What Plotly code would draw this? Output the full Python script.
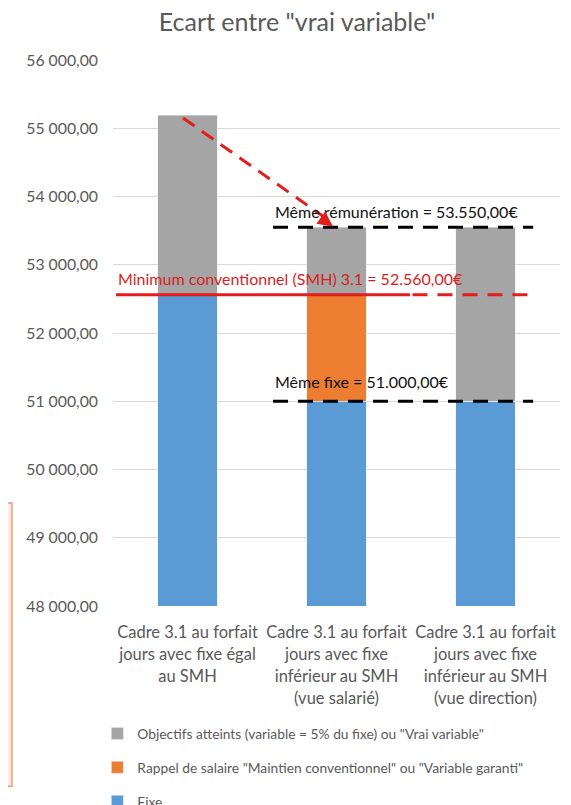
import plotly.graph_objects as go

# ---- data ----
categories = [
    "Cadre 3.1 au forfait<br>jours avec fixe égal<br>au SMH",
    "Cadre 3.1 au forfait<br>jours avec fixe<br>inférieur au SMH<br>(vue salarié)",
    "Cadre 3.1 au forfait<br>jours avec fixe<br>inférieur au SMH<br>(vue direction)",
]
fixe = [52560, 51000, 51000]
rappel = [0, 1560, 0]
objectifs = [2628, 990, 2550]

smh = 52560
meme_remuneration = 53550
meme_fixe = 51000
arrow_start_y = 55150

y_tick_values = [48000, 49000, 50000, 51000, 52000, 53000, 54000, 55000, 56000]
y_tick_labels = ["48 000,00", "49 000,00", "50 000,00", "51 000,00", "52 000,00",
                 "53 000,00", "54 000,00", "55 000,00", "56 000,00"]

name_fixe = "Fixe"
name_rappel = 'Rappel de salaire "Maintien conventionnel" ou "Variable garanti"'
name_obj = 'Objectifs atteints (variable = 5% du fixe) ou "Vrai variable"'

label_smh = "Minimum conventionnel (SMH) 3.1 = 52.560,00€"
label_rem = "Même rémunération = 53.550,00€"
label_fixe = "Même fixe = 51.000,00€"

# ---- style ----
FONT = "Lato, sans-serif"
TXT = "#595959"
BLUE = "#5b9bd5"
ORANGE = "#ed7d31"
GRAY = "#a5a5a5"
RED = "#e31c1c"

# page body has an 8px margin: figure is sized to the visible area
W, H = 563, 797

xpos = list(range(len(categories)))


def tick_label(s):
    return "<br>".join('<span style="font-size:16.5px">%s</span>' % p for p in s.split("<br>"))


fig = go.Figure()
fig.add_trace(go.Bar(x=xpos, y=fixe, name=name_fixe, marker_color=BLUE,
                     legendgroup="g3", legendrank=3))
fig.add_trace(go.Bar(x=xpos, y=rappel, name=name_rappel, marker_color=ORANGE,
                     legendgroup="g2", legendrank=2))
fig.add_trace(go.Bar(x=xpos, y=objectifs, name=name_obj, marker_color=GRAY,
                     legendgroup="g1", legendrank=1))

# dashed red arrow from bar 1 top to the "même rémunération" level
fig.add_trace(go.Scatter(
    x=[xpos[0] - 0.03, xpos[1] - 0.045], y=[arrow_start_y, meme_remuneration + 90],
    mode="lines", showlegend=False, hoverinfo="skip", cliponaxis=False,
    line=dict(color=RED, width=3, dash="14px,9px"),
))

shapes = [
    # black dashed lines
    dict(type="line", xref="x", yref="y", x0=0.574, x1=2.32, y0=meme_remuneration,
         y1=meme_remuneration, line=dict(color="black", width=3, dash="15px,10px")),
    dict(type="line", xref="x", yref="y", x0=0.574, x1=2.32, y0=meme_fixe,
         y1=meme_fixe, line=dict(color="black", width=3, dash="15px,10px")),
    # red SMH line: solid then dashed
    dict(type="line", xref="x", yref="y", x0=-0.48, x1=1.493, y0=smh, y1=smh,
         line=dict(color=RED, width=3)),
    dict(type="line", xref="x", yref="y", x0=1.51, x1=2.32, y0=smh, y1=smh,
         line=dict(color=RED, width=3, dash="15px,10px")),
    # partial box at left edge
    dict(type="rect", xref="paper", yref="paper", x0=-0.27, x1=-0.226, y0=-0.33,
         y1=0.1886, fillcolor="#fbebe4", line=dict(color="#f29a72", width=1.5),
         layer="below"),
]

annotations = [
    dict(x=-0.48, y=smh, xref="x", yref="y", text=label_smh, showarrow=False,
         xanchor="left", yanchor="bottom", yshift=5,
         font=dict(family=FONT, size=16, color="#d81e1e")),
    dict(x=0.574, y=meme_remuneration, xref="x", yref="y", text=label_rem,
         showarrow=False, xanchor="left", yanchor="bottom", yshift=4,
         font=dict(family=FONT, size=16, color="#111111")),
    dict(x=0.574, y=meme_fixe, xref="x", yref="y", text=label_fixe,
         showarrow=False, xanchor="left", yanchor="bottom", yshift=8,
         font=dict(family=FONT, size=16, color="#111111")),
    # arrow head
    dict(x=xpos[1] - 0.024, y=meme_remuneration + 10, xref="x", yref="y", text="",
         showarrow=True, arrowhead=2, arrowsize=1, arrowwidth=3, arrowcolor=RED,
         ax=-13, ay=-9.5, standoff=0),
]

fig.update_layout(
    width=W, height=H,
    margin=dict(l=105, r=11, t=52, b=199, autoexpand=False),
    paper_bgcolor="white", plot_bgcolor="white",
    barmode="stack", bargap=0.6,
    font=dict(family=FONT, color=TXT),
    title=dict(text='Ecart entre "vrai variable"', x=289 / W, xref="container",
               xanchor="center", y=1 - 14 / H, yref="container", yanchor="middle",
               font=dict(family=FONT, size=25, color=TXT)),
    showlegend=True,
    legend=dict(x=-0.035, xanchor="left", y=-0.205, yanchor="top",
                traceorder="grouped", tracegroupgap=13,
                font=dict(family=FONT, size=13.8, color=TXT),
                bgcolor="rgba(0,0,0,0)"),
    shapes=shapes, annotations=annotations,
)

fig.update_xaxes(range=[-0.5, 2.5], tickmode="array", tickvals=xpos,
                 ticktext=[tick_label(c) for c in categories],
                 tickfont=dict(family=FONT, size=17, color=TXT),
                 ticklabelstandoff=14,
                 showgrid=False, zeroline=False, showline=False, ticks="",
                 fixedrange=True)
fig.update_yaxes(range=[48000, 56000], tickmode="array", tickvals=y_tick_values,
                 ticktext=y_tick_labels, showgrid=True, gridcolor="#d9d9d9",
                 gridwidth=1, zeroline=False, showline=False, ticks="",
                 ticklabelstandoff=14,
                 tickfont=dict(family=FONT, size=15.8, color=TXT))

fig.write_html("out.html")
